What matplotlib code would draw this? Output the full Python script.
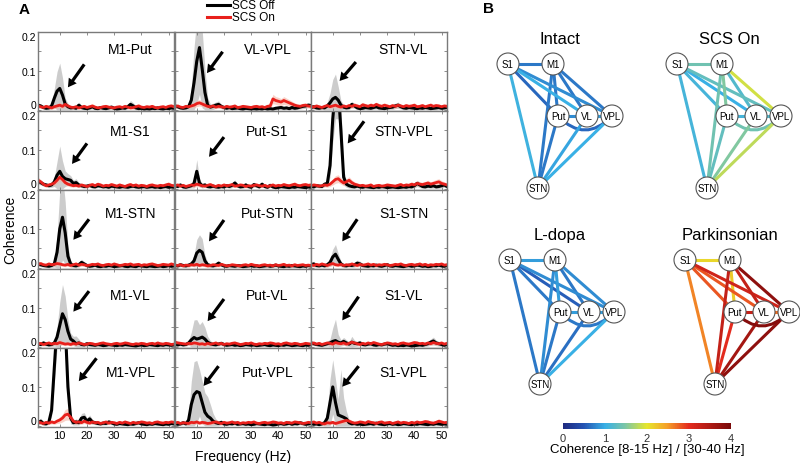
import numpy as np
import matplotlib
matplotlib.use("Agg")
import matplotlib.pyplot as plt
from matplotlib.lines import Line2D
from matplotlib.patches import Circle, PathPatch
from matplotlib.path import Path
from matplotlib.colors import LinearSegmentedColormap, Normalize
from matplotlib.colorbar import ColorbarBase

plt.rcParams['font.family'] = ['Liberation Sans', 'DejaVu Sans']

# frequency axis (Hz), values below in units of 0.001 coherence
freq = np.arange(2, 53)

# M1-Put
off_m1_put = [12,10,6,4,5,10,30,48,55,38, 15,8,5,6,4,12,6,4,3,5, 8,4,3,6,4,3,5,7,4,2, 3,5,4,8,14,10,5,3,4,2, 3,2,4,3,5,3,2,4,3,5, 4]
eoff_m1_put = [6,5,4,4,5,8,25,50,65,45, 15,8,5,5,4,8,5,4,4,4, 6,4,4,5,4,4,5,6,4,3, 4,5,4,6,10,8,5,4,4,3, 4,3,4,4,5,4,3,4,4,5, 4]
on_m1_put = [10,8,6,9,7,5,8,10,12,9, 14,10,7,6,8,5,7,9,6,8, 10,7,5,6,8,9,7,6,5,7, 8,6,9,7,5,6,8,10,7,6, 8,7,9,6,5,7,8,6,9,10, 8]
eon_m1_put = [5,4,4,5,4,4,5,6,7,5, 8,6,4,4,5,4,4,5,4,5, 6,4,4,4,5,5,4,4,4,4, 5,4,5,4,4,4,5,6,4,4, 5,4,5,4,4,4,5,4,5,6, 5]

# VL-VPL
off_vl_vpl = [10,8,5,4,5,8,25,70,125,160, 105,45,12,7,9,12,14,9,6,4, 6,3,4,5,3,2,4,3,2,3, 2,3,2,4,2,3,2,4,5,6, 4,5,3,6,4,5,7,9,10,12, 11]
eoff_vl_vpl = [5,5,4,4,5,8,30,90,110,120, 100,60,20,8,8,8,9,6,5,4, 5,4,4,4,4,3,4,3,3,3, 3,3,3,4,3,3,3,4,4,5, 4,4,4,5,4,4,5,6,6,6, 6]
on_vl_vpl = [8,10,7,6,9,8,10,12,16,18, 15,12,9,8,10,7,9,8,6,9, 7,8,10,6,7,9,8,7,6,8, 9,7,8,6,9,10,28,24,22,20, 24,21,18,15,12,10,9,11,12,10, 9]
eon_vl_vpl = [4,5,4,4,5,4,5,6,8,8, 7,6,5,4,5,4,5,4,4,5, 4,4,5,4,4,5,4,4,4,5, 5,4,5,4,5,6,12,10,10,9, 10,9,8,7,6,5,5,6,6,5, 5]

# STN-VL
off_stn_vl = [6,8,5,4,6,5,10,18,28,32, 25,12,7,5,6,14,10,5,3,4, 6,5,4,6,8,5,4,3,5,6, 7,10,12,8,5,4,6,5,4,3, 5,4,6,5,3,4,5,6,4,5, 6]
eoff_stn_vl = [5,6,4,4,5,5,10,25,50,60, 35,12,6,5,5,8,6,4,4,4, 5,5,4,5,6,5,4,4,5,5, 6,7,8,6,5,4,5,5,4,4, 5,4,5,5,4,4,5,5,4,5, 5]
on_stn_vl = [9,7,10,8,6,9,11,8,10,12, 9,7,10,8,11,9,12,10,8,13, 11,9,12,10,14,11,9,12,10,8, 11,9,12,10,8,11,9,10,12,8, 9,11,8,10,12,9,11,10,8,10, 9]
eon_stn_vl = [5,4,5,4,4,5,5,4,5,6, 5,4,5,4,5,5,6,5,4,6, 5,5,6,5,6,5,5,6,5,4, 5,5,6,5,4,5,5,5,6,4, 5,5,4,5,6,5,5,5,4,5, 5]

# M1-S1
off_m1_s1 = [20,16,12,10,8,10,18,35,45,32, 26,24,22,14,16,10,8,6,7,9, 6,5,8,7,5,6,4,7,6,5, 4,6,5,4,6,7,5,4,5,6, 4,5,6,4,5,3,5,6,4,5, 4]
eoff_m1_s1 = [8,6,5,5,5,6,12,35,65,40, 20,15,12,8,10,6,5,5,5,5, 5,4,5,5,4,5,4,5,5,4, 4,5,4,4,5,5,4,4,4,5, 4,4,5,4,4,4,4,5,4,4, 4]
on_m1_s1 = [22,18,12,8,10,12,15,22,30,24, 16,12,10,8,9,7,10,8,6,9, 11,8,12,10,7,9,8,11,9,7, 10,8,6,9,11,8,10,7,9,8, 6,9,10,8,7,9,8,10,12,9, 8]
eon_m1_s1 = [8,6,5,4,5,5,6,8,10,8, 6,5,5,4,4,4,5,4,4,5, 5,4,5,5,4,5,4,5,5,4, 5,4,4,5,5,4,5,4,5,4, 4,5,5,4,4,5,4,5,6,5, 4]

# Put-S1
off_put_s1 = [8,6,10,5,4,6,8,14,45,15, 8,10,6,5,7,5,4,6,5,8, 6,9,15,8,5,6,10,6,4,11, 8,5,12,6,4,9,5,3,4,6, 5,4,3,5,4,6,5,4,3,5, 4]
eoff_put_s1 = [5,4,5,4,4,5,6,12,30,10, 6,6,5,4,5,4,4,5,4,5, 5,6,8,5,4,5,6,5,4,6, 5,4,6,5,4,5,4,3,4,5, 4,4,3,4,4,5,4,4,3,4, 4]
on_put_s1 = [8,10,7,9,6,8,10,9,12,10, 8,7,9,11,8,6,9,7,10,8, 9,11,7,8,10,9,6,8,7,9, 10,8,7,9,6,8,10,7,9,8, 11,9,8,10,12,9,8,10,11,9, 10]
eon_put_s1 = [4,5,4,5,4,4,5,5,6,5, 4,4,5,5,4,4,5,4,5,4, 5,5,4,4,5,5,4,4,4,5, 5,4,4,5,4,4,5,4,5,4, 5,5,4,5,6,5,4,5,5,5, 5]

# STN-VPL
off_stn_vpl = [6,5,8,7,6,12,14,60,180,260, 260,150,30,12,8,6,5,7,5,4, 6,5,4,3,5,4,6,5,3,4, 5,4,3,4,5,4,6,5,8,14, 10,6,5,7,6,8,5,6,8,10, 6]
eoff_stn_vpl = [4,4,5,5,4,6,8,30,60,80, 80,60,20,8,6,5,4,5,4,4, 5,4,4,3,4,4,5,4,3,4, 4,4,3,4,4,4,5,4,6,8, 7,5,4,5,5,6,4,5,6,6, 5]
on_stn_vpl = [8,10,9,7,8,10,9,12,18,24, 26,20,15,18,22,16,12,10,8,9, 7,8,10,6,8,9,7,8,10,9, 8,7,9,11,8,10,9,12,10,14, 12,11,13,15,12,14,16,18,14,12, 10]
eon_stn_vpl = [4,5,4,4,4,5,5,6,8,10, 10,8,7,8,9,7,6,5,4,5, 4,4,5,4,4,5,4,4,5,5, 4,4,5,5,4,5,5,6,5,7, 6,6,6,7,6,7,8,8,7,6, 5]

# M1-STN
off_m1_stn = [10,8,6,5,4,6,10,40,100,130, 90,30,10,6,5,8,14,10,6,4, 5,7,4,3,5,4,6,5,3,4, 5,6,4,3,5,4,3,6,5,4, 3,5,4,3,4,5,3,4,6,4, 5]
eoff_m1_stn = [5,5,4,4,4,5,8,40,100,110, 80,25,8,5,5,6,8,6,5,4, 4,5,4,3,4,4,5,4,3,4, 4,5,4,3,4,4,3,5,4,4, 3,4,4,3,4,4,3,4,5,4, 4]
on_m1_stn = [9,11,8,7,10,8,9,11,10,8, 7,9,6,8,10,7,9,8,6,7, 9,8,10,7,6,8,9,7,10,8, 6,7,9,8,10,7,8,9,6,8, 7,9,10,8,6,7,9,8,7,10, 8]
eon_m1_stn = [5,5,4,4,5,4,5,5,5,4, 4,5,4,4,5,4,5,4,4,4, 5,4,5,4,4,4,5,4,5,4, 4,4,5,4,5,4,4,5,4,4, 4,5,5,4,4,4,5,4,4,5, 4]

# Put-STN
off_put_stn = [6,5,8,6,5,7,10,18,38,45, 40,18,8,6,5,7,12,8,5,4, 6,5,4,6,5,3,4,5,6,4, 5,3,4,5,6,4,5,7,5,4, 3,5,4,6,5,4,3,5,4,6, 5]
eoff_put_stn = [4,4,5,4,4,5,6,15,35,40, 35,15,6,5,4,5,7,5,4,4, 5,4,4,5,4,3,4,4,5,4, 4,3,4,4,5,4,4,5,4,4, 3,4,4,5,4,4,3,4,4,5, 4]
on_put_stn = [7,6,8,5,7,6,8,7,9,6, 8,7,5,6,8,7,6,9,7,5, 6,8,7,6,5,7,8,6,9,7, 6,5,7,8,6,7,5,8,6,7, 9,6,7,5,8,6,7,8,6,7, 6]
eon_put_stn = [4,4,4,4,4,4,4,4,5,4, 4,4,4,4,4,4,4,5,4,4, 4,4,4,4,4,4,4,4,5,4, 4,4,4,4,4,4,4,4,4,4, 5,4,4,4,4,4,4,4,4,4, 4]

# S1-STN
off_s1_stn = [8,10,6,5,7,5,8,14,28,35, 22,10,6,5,7,6,8,12,10,6, 5,4,6,5,7,5,4,6,8,5, 4,6,5,4,3,5,6,4,5,7, 6,4,5,3,4,6,5,7,5,4, 6]
eoff_s1_stn = [6,7,5,4,5,4,6,10,20,25, 15,7,5,4,5,5,6,8,7,5, 4,4,5,4,5,4,4,5,6,4, 4,5,4,4,3,4,5,4,4,5, 5,4,4,3,4,5,4,5,4,4, 5]
on_s1_stn = [8,6,9,7,10,8,6,9,11,8, 7,9,6,8,7,10,8,6,9,7, 8,10,7,9,6,8,7,9,8,6, 7,9,8,10,7,6,8,9,7,8, 10,7,9,6,8,7,9,8,10,7, 8]
eon_s1_stn = [4,4,5,4,5,4,4,5,5,4, 4,5,4,4,4,5,4,4,5,4, 4,5,4,5,4,4,4,5,4,4, 4,5,4,5,4,4,4,5,4,4, 5,4,5,4,4,4,5,4,5,4, 4]

# M1-VL
off_m1_vl = [8,6,10,7,5,6,10,25,55,85, 70,40,20,15,8,10,6,5,8,6, 5,4,6,5,3,4,6,5,4,3, 5,4,6,5,4,3,2,4,5,3, 4,6,5,4,3,5,4,6,5,4, 5]
eoff_m1_vl = [5,4,6,5,4,5,8,25,60,75, 60,30,15,12,20,10,6,5,6,5, 4,4,5,4,3,4,5,4,4,3, 4,4,5,4,4,3,3,4,4,3, 4,5,4,4,3,4,4,5,4,4, 4]
on_m1_vl = [7,9,6,8,10,7,9,8,11,9, 7,8,6,9,7,10,8,6,7,9, 8,6,7,9,10,8,7,6,8,9, 7,8,10,9,7,6,8,7,9,8, 6,8,9,7,10,8,7,9,8,6, 7]
eon_m1_vl = [4,5,4,4,5,4,5,4,6,5, 4,4,4,5,4,5,4,4,4,5, 4,4,4,5,5,4,4,4,4,5, 4,4,5,5,4,4,4,4,5,4, 4,4,5,4,5,4,4,5,4,4, 4]

# Put-VL
off_put_vl = [6,5,7,5,6,10,18,24,20,22, 25,20,12,8,6,5,7,9,6,4, 5,6,4,5,3,4,6,5,4,5, 3,4,5,6,4,3,5,4,3,5, 4,6,5,3,4,5,4,3,5,4, 6]
eoff_put_vl = [4,4,5,4,4,6,20,45,50,35, 40,30,15,8,5,4,5,6,5,4, 4,5,4,4,3,4,5,4,4,4, 3,4,4,5,4,3,4,4,3,4, 4,5,4,3,4,4,4,3,4,4, 5]
on_put_vl = [12,10,9,8,7,9,8,10,9,7, 8,6,9,7,8,10,7,9,6,8, 7,9,10,8,6,7,9,8,10,7, 6,8,7,9,8,10,9,7,8,6, 9,10,8,7,9,8,6,7,9,8, 7]
eon_put_vl = [6,5,5,4,4,5,4,5,5,4, 4,4,5,4,4,5,4,5,4,4, 4,5,5,4,4,4,5,4,5,4, 4,4,4,5,4,5,5,4,4,4, 5,5,4,4,5,4,4,4,5,4, 4]

# S1-VL
off_s1_vl = [10,8,6,5,4,6,8,10,14,16, 12,10,14,10,7,12,9,8,10,6, 5,7,8,5,4,6,5,7,8,6, 4,5,3,4,3,5,4,2,3,4, 5,4,6,8,12,15,10,8,6,4, 6]
eoff_s1_vl = [6,5,4,4,4,5,6,10,35,55, 20,8,10,8,6,15,8,6,7,5, 4,5,6,4,4,5,4,5,6,5, 4,4,3,4,3,4,4,3,3,4, 4,4,5,6,8,10,7,6,5,4, 5]
on_s1_vl = [8,10,7,9,6,8,10,9,7,11, 9,8,10,7,9,12,10,8,6,9, 7,10,8,11,9,7,6,8,10,9, 7,8,6,9,10,8,7,9,11,10, 8,9,7,10,8,11,9,8,10,7, 9]
eon_s1_vl = [4,5,4,5,4,4,5,5,4,5, 5,4,5,4,5,6,5,4,4,5, 4,5,4,5,5,4,4,4,5,5, 4,4,4,5,5,4,4,5,5,5, 4,5,4,5,4,5,5,4,5,4, 5]

# M1-VPL
off_m1_vpl = [8,12,6,5,10,40,150,260,300,300, 260,100,20,8,10,8,20,22,12,18, 10,8,6,5,7,6,10,8,5,4, 6,5,4,3,5,4,6,8,5,4, 3,5,4,6,5,4,3,5,4,6, 5]
eoff_m1_vpl = [5,8,5,4,6,15,40,60,60,60, 60,40,15,6,8,6,12,12,8,10, 6,5,4,4,5,4,6,5,4,3, 4,4,3,3,4,3,4,5,4,3, 3,4,3,4,4,3,3,4,3,4, 4]
on_m1_vpl = [10,8,6,9,7,10,8,12,15,20, 28,30,22,12,9,10,8,12,9,7, 10,8,9,6,8,10,7,9,8,6, 9,7,10,8,6,9,7,8,10,9, 7,8,6,9,10,8,7,9,8,10, 9]
eon_m1_vpl = [5,4,4,5,4,5,4,6,8,10, 14,15,10,6,5,5,4,6,5,4, 5,4,5,4,4,5,4,5,4,4, 5,4,5,4,4,5,4,4,5,5, 4,4,4,5,5,4,4,5,4,5, 5]

# Put-VPL
off_put_vpl = [6,4,5,8,5,15,55,80,88,85, 60,35,25,20,12,8,6,9,5,4, 6,5,7,4,5,6,4,5,3,4, 6,5,4,3,5,4,2,3,5,6, 4,5,7,4,6,5,8,6,4,5, 6]
eoff_put_vpl = [4,4,4,5,5,15,60,85,80,60, 55,50,50,35,20,10,6,6,5,4, 5,4,5,4,4,5,4,4,3,4, 5,4,4,3,4,4,3,3,4,5, 4,4,5,4,5,4,5,5,4,4, 5]
on_put_vpl = [7,9,6,8,7,6,9,8,10,7, 9,8,6,7,9,10,8,6,9,7, 8,10,7,9,6,8,7,9,8,10, 7,6,8,9,7,8,10,9,7,8, 6,9,8,7,10,9,8,6,7,9, 8]
eon_put_vpl = [4,5,4,4,4,4,5,4,5,4, 5,4,4,4,5,5,4,4,5,4, 4,5,4,5,4,4,4,5,4,5, 4,4,4,5,4,4,5,5,4,4, 4,5,4,4,5,5,4,4,4,5, 4]

# S1-VPL
off_s1_vpl = [6,4,5,3,5,8,20,60,100,60, 28,25,22,18,8,5,6,4,5,3, 4,5,6,4,7,5,4,3,5,6, 4,5,3,4,6,5,4,3,5,4, 6,5,4,3,5,4,6,5,4,5, 4]
eoff_s1_vpl = [4,4,4,3,4,8,20,60,70,60, 40,120,50,20,8,4,5,4,4,3, 4,4,5,4,5,4,4,3,4,5, 4,4,3,4,5,4,4,3,4,4, 5,4,4,3,4,4,5,4,4,4, 4]
on_s1_vpl = [8,10,7,9,6,5,8,7,9,6, 8,10,12,14,12,9,7,8,10,9, 7,11,9,8,6,9,10,7,8,9, 6,8,10,7,9,8,6,9,7,10, 8,9,11,10,8,7,9,12,10,8, 9]
eon_s1_vpl = [4,5,4,5,4,4,4,4,5,4, 4,5,6,7,6,5,4,4,5,5, 4,5,5,4,4,5,5,4,4,5, 4,4,5,4,5,4,4,5,4,5, 4,5,5,5,4,4,5,6,5,4, 5]

pair_names = ['M1-Put', 'VL-VPL', 'STN-VL',
              'M1-S1', 'Put-S1', 'STN-VPL',
              'M1-STN', 'Put-STN', 'S1-STN',
              'M1-VL', 'Put-VL', 'S1-VL',
              'M1-VPL', 'Put-VPL', 'S1-VPL']

# coherence ratio [8-15 Hz]/[30-40 Hz] per pair (same order)
ratio_intact = [0.7, 0.9, 0.95, 0.7, 0.6, 1.0, 0.7, 0.7, 1.05, 0.7, 0.8, 1.0, 0.7, 0.6, 0.8]
ratio_scs_on = [1.5, 1.2, 1.5, 1.4, 1.1, 1.8, 1.4, 1.3, 1.1, 1.2, 1.1, 1.0, 1.9, 1.4, 1.3]
ratio_ldopa = [0.9, 0.9, 0.65, 0.9, 0.7, 1.0, 0.8, 0.7, 0.7, 0.7, 0.9, 0.55, 0.8, 0.7, 0.8]
ratio_park = [2.2, 2.7, 3.6, 2.1, 2.8, 3.8, 3.3, 3.0, 2.6, 3.3, 3.3, 2.8, 3.8, 3.9, 3.2]

panels = [
    (off_m1_put, eoff_m1_put, on_m1_put, eon_m1_put),
    (off_vl_vpl, eoff_vl_vpl, on_vl_vpl, eon_vl_vpl),
    (off_stn_vl, eoff_stn_vl, on_stn_vl, eon_stn_vl),
    (off_m1_s1, eoff_m1_s1, on_m1_s1, eon_m1_s1),
    (off_put_s1, eoff_put_s1, on_put_s1, eon_put_s1),
    (off_stn_vpl, eoff_stn_vpl, on_stn_vpl, eon_stn_vpl),
    (off_m1_stn, eoff_m1_stn, on_m1_stn, eon_m1_stn),
    (off_put_stn, eoff_put_stn, on_put_stn, eon_put_stn),
    (off_s1_stn, eoff_s1_stn, on_s1_stn, eon_s1_stn),
    (off_m1_vl, eoff_m1_vl, on_m1_vl, eon_m1_vl),
    (off_put_vl, eoff_put_vl, on_put_vl, eon_put_vl),
    (off_s1_vl, eoff_s1_vl, on_s1_vl, eon_s1_vl),
    (off_m1_vpl, eoff_m1_vpl, on_m1_vpl, eon_m1_vpl),
    (off_put_vpl, eoff_put_vpl, on_put_vpl, eon_put_vpl),
    (off_s1_vpl, eoff_s1_vpl, on_s1_vpl, eon_s1_vpl),
]

# arrow tip / tail in axes fraction
arrows = [((0.22, 0.30), (0.34, 0.59)), ((0.235, 0.48), (0.35, 0.75)), ((0.21, 0.38), (0.33, 0.62)),
          ((0.25, 0.33), (0.36, 0.59)), ((0.25, 0.42), (0.36, 0.67)), ((0.27, 0.59), (0.39, 0.87)),
          ((0.26, 0.37), (0.375, 0.63)), ((0.25, 0.35), (0.36, 0.62)), ((0.23, 0.35), (0.34, 0.63)),
          ((0.26, 0.46), (0.375, 0.72)), ((0.24, 0.34), (0.36, 0.62)), ((0.23, 0.35), (0.35, 0.65)),
          ((0.30, 0.58), (0.43, 0.87)), ((0.21, 0.52), (0.32, 0.77)), ((0.23, 0.51), (0.35, 0.77))]
title_y = [0.78, 0.75, 0.71, 0.67, 0.70]

W, H = 800, 464
fig = plt.figure(figsize=(W / 100, H / 100), dpi=100)


def px_axes(left, top, w, h):
    return fig.add_axes([left / W, 1 - (top + h) / H, w / W, h / H])


col_left = [38, 175, 311]
row_top = [33, 112, 191, 270, 349]
spine_c = '#7a7a7a'

for k, (off, eoff, on, eon) in enumerate(panels):
    r, c = divmod(k, 3)
    ax = px_axes(col_left[c], row_top[r], 136, 79)
    off = np.array(off) / 1000
    eoff = np.array(eoff) / 1000
    on = np.array(on) / 1000
    eon = np.array(eon) / 1000
    ax.fill_between(freq, np.clip(off - eoff, 0, None), off + eoff, color='#c4c4c4', lw=0, alpha=0.85)
    ax.fill_between(freq, np.clip(on - eon, 0, None), on + eon, color='#f6b4a4', lw=0, alpha=0.6)
    ax.plot(freq, off, color='black', lw=2.2, solid_joinstyle='round')
    ax.plot(freq, on, color='#e8201c', lw=2.0, solid_joinstyle='round')
    ax.set_xlim(2, 52)
    ax.set_ylim(-0.003, 0.2)
    ax.set_xticks([10, 20, 30, 40, 50])
    ax.set_yticks([0, 0.05, 0.1, 0.15, 0.2])
    ax.set_yticklabels(['0', '', '0.1', '', '0.2'] if c == 0 else [])
    if r < 4:
        ax.set_xticklabels([])
    ax.tick_params(direction='in', top=True, right=True, length=2.5, width=0.6,
                   color=spine_c, labelsize=8, pad=2)
    ax.tick_params(axis='y', labelsize=7.5, pad=1.5)
    if c == 0:
        ylabs = ax.get_yticklabels()
        ylabs[0].set_verticalalignment('bottom')
        ylabs[4].set_verticalalignment('top')
    for s in ax.spines.values():
        s.set_color(spine_c)
        s.set_linewidth(1.0)
    ax.text(0.68, title_y[r], pair_names[k], transform=ax.transAxes,
            ha='center', va='center', fontsize=10)
    tip, tail = arrows[k]
    ax.annotate('', xy=tip, xytext=tail, xycoords='axes fraction',
                arrowprops=dict(facecolor='black', edgecolor='none', width=2.3,
                                headwidth=7, headlength=6, shrink=0))

fig.text(10 / W, 1 - 230 / H, 'Coherence', rotation=90, ha='center', va='center', fontsize=10)
fig.text(243 / W, 1 - 457 / H, 'Frequency (Hz)', ha='center', va='center', fontsize=10)
fig.text(24 / W, 1 - 10 / H, 'A', ha='center', va='center', fontsize=11, fontweight='bold')
fig.text(488 / W, 1 - 9 / H, 'B', ha='center', va='center', fontsize=11, fontweight='bold')

# legend
for yy, col, lab in [(6, 'black', 'SCS Off'), (18, '#e8201c', 'SCS On')]:
    fig.add_artist(Line2D([207 / W, 230 / W], [1 - yy / H, 1 - yy / H], color=col, lw=2.2,
                          transform=fig.transFigure))
    fig.text(232 / W, 1 - yy / H, lab, ha='left', va='center', fontsize=8.5)

# panel B: network diagrams, axes in pixel units
axb = px_axes(450, 0, 350, 464)
axb.set_xlim(450, 800)
axb.set_ylim(464, 0)
axb.axis('off')

cmap = LinearSegmentedColormap.from_list('coh', [
    (0.0, '#1f2a80'), (0.12, '#2452b2'), (0.25, '#38b0e6'), (0.37, '#7cc6a6'),
    (0.5, '#e6e62c'), (0.62, '#f5a028'), (0.75, '#e42b1e'), (1.0, '#7a0a0a')])
norm = Normalize(0, 4)

layout = {'S1': (0, 0), 'M1': (45, 0), 'Put': (50, 52), 'VL': (79, 52),
          'VPL': (104, 52), 'STN': (30, 124)}
diagrams = [('Intact', ratio_intact, (508, 65), (560, 39)),
            ('SCS On', ratio_scs_on, (677, 65), (729, 39)),
            ('L-dopa', ratio_ldopa, (510, 261), (560, 236)),
            ('Parkinsonian', ratio_park, (685, 261), (730, 236))]

for title, ratios, (ox, oy), (tx, ty) in diagrams:
    pos = {n: (ox + dx, oy + dy) for n, (dx, dy) in layout.items()}
    order = np.argsort(ratios)
    for i in order:
        a, b = pair_names[i].split('-')
        col = cmap(norm(ratios[i]))
        (x0, y0), (x1, y1) = pos[a], pos[b]
        if {a, b} == {'Put', 'VPL'}:
            cx, cy = pos['VL'][0] - 2, pos['VL'][1] + 28
            path = Path([(x0, y0), (cx, cy), (x1, y1)], [Path.MOVETO, Path.CURVE3, Path.CURVE3])
            axb.add_patch(PathPatch(path, facecolor='none', edgecolor=col, lw=2.2, zorder=2))
        else:
            axb.plot([x0, x1], [y0, y1], color=col, lw=2.2, solid_capstyle='butt', zorder=2)
    for n, (x, y) in pos.items():
        axb.add_patch(Circle((x, y), 11, facecolor='white', edgecolor='#555555', lw=0.8, zorder=3))
        axb.text(x, y, n, ha='center', va='center', fontsize=7, zorder=4)
    axb.text(tx, ty, title, ha='center', va='center', fontsize=12)

cax = fig.add_axes([563 / W, 1 - 430 / H, 168 / W, 6 / H])
cb = ColorbarBase(cax, cmap=cmap, norm=norm, orientation='horizontal', ticks=[0, 1, 2, 3, 4])
cb.outline.set_visible(False)
cax.tick_params(length=0, labelsize=8, pad=3, colors='#333333')
fig.text(647 / W, 1 - 450 / H, 'Coherence [8-15 Hz] / [30-40 Hz]', ha='center', va='center', fontsize=9.5)

fig.savefig('out.png', dpi=100)
